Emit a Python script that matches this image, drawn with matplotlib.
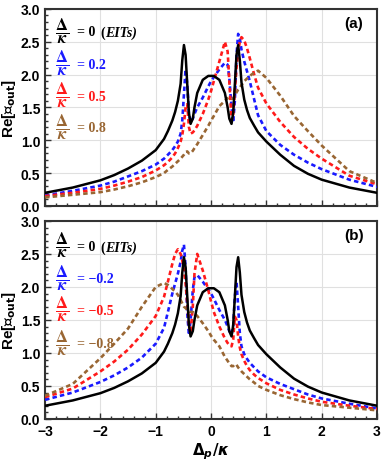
import matplotlib
matplotlib.use("Agg")
import matplotlib.pyplot as plt
from matplotlib.ticker import MultipleLocator

# detuning grid (Delta_p / kappa), shared by every curve
dp = [-3, -2.5, -2, -1.75, -1.5, -1.25, -1, -0.85, -0.78, -0.7, -0.65, -0.6,
      -0.55, -0.52, -0.49, -0.46, -0.43, -0.4, -0.37, -0.33, -0.3, -0.25, -0.15, -0.05, 0,
      0.05, 0.15, 0.25, 0.3, 0.33, 0.37, 0.4, 0.43, 0.46, 0.49, 0.52, 0.55,
      0.6, 0.65, 0.7, 0.78, 0.85, 1, 1.25, 1.5, 1.75, 2, 2.5, 3]

# Delta/kappa = 0 (same in both panels)
eit = [0.20, 0.28, 0.39, 0.47, 0.57, 0.69, 0.85, 1.02, 1.14, 1.3, 1.43, 1.6,
       1.86, 2.22, 2.45, 2.3, 1.85, 1.42, 1.25, 1.33, 1.5, 1.72, 1.92, 1.98, 1.98,
       1.98, 1.92, 1.72, 1.5, 1.33, 1.25, 1.42, 1.85, 2.3, 2.45, 2.22, 1.88,
       1.62, 1.46, 1.34, 1.22, 1.12, 0.98, 0.78, 0.61, 0.49, 0.40, 0.28, 0.20]

# panel (a): Delta/kappa = 0.2, 0.5, 0.8
a_d02 = [0.16, 0.23, 0.31, 0.37, 0.45, 0.53, 0.63, 0.72, 0.78, 0.85, 0.91, 0.98,
         1.1, 1.3, 1.7, 2.08, 1.85, 1.4, 1.28, 1.33, 1.4, 1.5, 1.65, 1.82, 1.9,
         1.96, 2.08, 2.18, 2.15, 1.95, 1.5, 1.27, 1.6, 2.3, 2.62, 2.55, 2.38,
         2.2, 2.05, 1.9, 1.62, 1.38, 1.14, 0.93, 0.78, 0.66, 0.56, 0.4, 0.29]
a_d05 = [0.15, 0.2, 0.26, 0.31, 0.37, 0.44, 0.54, 0.62, 0.67, 0.74, 0.8, 0.88,
         0.98, 1.08, 1.25, 1.5, 1.55, 1.2, 1.1, 1.12, 1.15, 1.22, 1.4, 1.62, 1.75,
         1.9, 2.2, 2.5, 2.35, 1.9, 1.3, 1.4, 1.75, 2.1, 2.35, 2.5, 2.57,
         2.52, 2.4, 2.25, 2.0, 1.8, 1.56, 1.28, 1.05, 0.87, 0.72, 0.46, 0.33]
a_d08 = [0.13, 0.17, 0.21, 0.25, 0.3, 0.36, 0.44, 0.5, 0.55, 0.6, 0.64, 0.68,
         0.72, 0.75, 0.78, 0.82, 0.83, 0.8, 0.8, 0.84, 0.88, 0.94, 1.08, 1.22, 1.3,
         1.37, 1.52, 1.6, 1.64, 1.65, 1.63, 1.64, 1.68, 1.73, 1.77, 1.8, 1.84,
         1.9, 1.94, 1.98, 2.03, 2.06, 1.95, 1.68, 1.37, 1.14, 0.92, 0.53, 0.35]

# panel (b): Delta/kappa = -0.2, -0.5, -0.8
b_d02 = [0.29, 0.4, 0.56, 0.66, 0.78, 0.93, 1.14, 1.38, 1.62, 1.9, 2.05, 2.2,
         2.38, 2.55, 2.64, 2.3, 1.6, 1.27, 1.5, 1.95, 2.15, 2.18, 2.08, 1.96, 1.9,
         1.82, 1.65, 1.5, 1.4, 1.33, 1.28, 1.4, 1.85, 2.08, 1.7, 1.3, 1.1,
         0.98, 0.91, 0.85, 0.78, 0.72, 0.63, 0.53, 0.45, 0.37, 0.31, 0.23, 0.16]
b_d05 = [0.33, 0.46, 0.72, 0.87, 1.05, 1.28, 1.56, 1.85, 2.08, 2.35, 2.5, 2.57,
         2.5, 2.4, 2.25, 2.05, 1.75, 1.45, 1.3, 1.7, 2.2, 2.5, 2.25, 1.95, 1.78,
         1.62, 1.4, 1.22, 1.15, 1.12, 1.1, 1.2, 1.55, 1.5, 1.25, 1.08, 0.98,
         0.88, 0.8, 0.74, 0.67, 0.62, 0.54, 0.44, 0.37, 0.31, 0.26, 0.2, 0.15]
b_d08 = [0.35, 0.53, 0.92, 1.14, 1.37, 1.7, 2.0, 2.06, 2.03, 1.97, 1.93, 1.88,
         1.8, 1.75, 1.7, 1.68, 1.65, 1.63, 1.62, 1.62, 1.6, 1.56, 1.45, 1.33, 1.26,
         1.2, 1.1, 0.94, 0.88, 0.84, 0.8, 0.8, 0.83, 0.82, 0.78, 0.75, 0.72,
         0.68, 0.64, 0.6, 0.55, 0.5, 0.44, 0.36, 0.3, 0.25, 0.21, 0.17, 0.13]

labels_a = ["= 0", "= 0.2", "= 0.5", "= 0.8"]
labels_b = ["= 0", "= \u22120.2", "= \u22120.5", "= \u22120.8"]
colors = ["black", "#1a1aff", "#ff1a1a", "#996633"]

plt.rcParams["font.family"] = "Liberation Sans"
plt.rcParams["font.weight"] = "bold"

fig = plt.figure(figsize=(3.82, 4.64), dpi=100)
ax1 = fig.add_axes([0.118, 0.554, 0.869, 0.4246])
ax2 = fig.add_axes([0.118, 0.095, 0.869, 0.4267])


def style(ax, show_x):
    ax.set_xlim(-3, 3)
    ax.set_ylim(0, 3)
    ax.xaxis.set_major_locator(MultipleLocator(1))
    ax.xaxis.set_minor_locator(MultipleLocator(0.2))
    ax.yaxis.set_major_locator(MultipleLocator(0.5))
    ax.yaxis.set_minor_locator(MultipleLocator(0.1))
    ax.grid(True, which="major", color="#e0e0e0", lw=0.8, zorder=0)
    ax.tick_params(which="both", direction="in", top=False, right=False,
                   labelsize=10, width=1.0, color="#333333")
    ax.tick_params(which="major", length=4)
    ax.tick_params(which="minor", length=2)
    for s in ax.spines.values():
        s.set_linewidth(1.5)
        s.set_color("#333333")
    if not show_x:
        ax.tick_params(labelbottom=False)
    ax.set_ylabel(r"Re[$\mathcal{E}_{\mathbf{out}}$]", fontsize=11, fontweight="bold",
                  labelpad=2)


def draw(ax, curves, labels, tag, ys):
    for i, (y, c) in enumerate(zip(curves, colors)):
        if i == 0:
            ax.plot(dp, y, color=c, lw=1.8, zorder=5)
        else:
            ax.plot(dp, y, color=c, lw=1.9, ls=(0, (1.7, 1.2)), zorder=4)
    for i, (lab, c) in enumerate(zip(labels, colors)):
        ax.text(0.052, ys[i], r"$\dfrac{\mathbf{\Delta}}{\mathit{\kappa}}$",
                transform=ax.transAxes, color=c, fontsize=12, math_fontfamily="stix",
                va="center", ha="center")
        ax.text(0.096, ys[i] - 0.01, lab, transform=ax.transAxes, color=c, fontsize=10,
                family="Liberation Serif", weight="bold", va="center", ha="left")
        if i == 0:
            ax.text(0.168, ys[i] - 0.01, "(", transform=ax.transAxes, color=c,
                    fontsize=10, family="Liberation Serif", weight="bold",
                    va="center", ha="left")
            ax.text(0.182, ys[i] - 0.01, "EITs)", transform=ax.transAxes, color=c,
                    fontsize=10, family="Liberation Serif", weight="bold",
                    style="italic", va="center", ha="left")
    ax.text(0.93, 0.93, tag, transform=ax.transAxes, fontsize=11, fontweight="bold",
            ha="center", va="center")


style(ax1, False)
style(ax2, True)
draw(ax1, [eit, a_d02, a_d05, a_d08], labels_a, "(a)", [0.893, 0.728, 0.566, 0.406])
draw(ax2, [eit, b_d02, b_d05, b_d08], labels_b, "(b)", [0.879, 0.717, 0.556, 0.389])
ax2.set_xlabel(r"$\mathbf{\Delta}_{\mathit{p}}/\mathit{\kappa}$", fontsize=11, labelpad=2)

fig.savefig("out.png", dpi=100)
